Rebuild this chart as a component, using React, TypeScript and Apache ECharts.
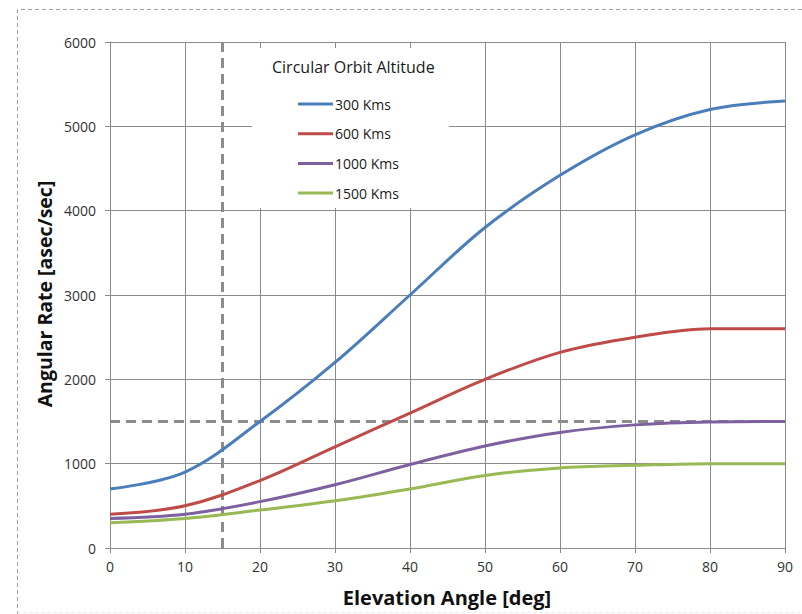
import React, { useEffect, useRef } from "react";
import * as echarts from "echarts";

const elevation = [0, 10, 20, 30, 40, 50, 60, 70, 80, 90];
const seriesNames = ["300 Kms", "600 Kms", "1000 Kms", "1500 Kms"];
const rate300 = [700, 900, 1500, 2200, 3000, 3800, 4420, 4900, 5200, 5300];
const rate600 = [400, 500, 800, 1200, 1600, 2000, 2320, 2500, 2600, 2600];
const rate1000 = [350, 400, 550, 750, 990, 1210, 1370, 1460, 1495, 1500];
const rate1500 = [300, 350, 450, 560, 700, 860, 950, 980, 1000, 1000];
const seriesColors = ["#4A7EBB", "#BE4B48", "#7D60A0", "#98B954"];
const refRate = 1500;
const refElevation = 15;

const FONT = "'Open Sans', sans-serif";

export default function App() {
  const ref = useRef<HTMLDivElement>(null);

  useEffect(() => {
    if (!ref.current) return;
    const chart = echarts.init(ref.current, undefined, { renderer: "svg" });
    const allRates = [rate300, rate600, rate1000, rate1500];
    const dataSeries = allRates.map((vals, i) => ({
      name: seriesNames[i],
      type: "line",
      smooth: 0.35,
      symbol: "none",
      data: elevation.map((x, j) => [x, vals[j]]),
      lineStyle: { color: seriesColors[i], width: 3 },
      itemStyle: { color: seriesColors[i] },
      z: 3,
    }));
    const refStyle = { color: "#8C8C8C", width: 3, type: [10, 6] as any };
    chart.setOption({
      animation: false,
      backgroundColor: "#ffffff",
      grid: { left: 110, right: 17, top: 42, bottom: 66, containLabel: false },
      xAxis: {
        type: "value",
        min: 0,
        max: 90,
        interval: 10,
        axisLine: { show: true, lineStyle: { color: "#8A8A8A", width: 1 } },
        axisTick: { show: true, length: 5, lineStyle: { color: "#8A8A8A" } },
        axisLabel: { color: "#333", fontFamily: FONT, fontSize: 14, margin: 11 },
        splitLine: { show: true, lineStyle: { color: "#8A8A8A", width: 1 } },
      },
      yAxis: {
        type: "value",
        min: 0,
        max: 6000,
        interval: 1000,
        axisLine: { show: true, lineStyle: { color: "#8A8A8A", width: 1 } },
        axisTick: { show: true, length: 5, lineStyle: { color: "#8A8A8A" } },
        axisLabel: {
          color: "#333",
          fontFamily: FONT,
          fontSize: 14,
          margin: 14,
          formatter: (v: number) => String(v),
        },
        splitLine: { show: true, lineStyle: { color: "#8A8A8A", width: 1 } },
      },
      legend: {
        data: seriesNames,
        orient: "vertical",
        left: 298,
        top: 96,
        padding: 0,
        icon: "rect",
        itemWidth: 35,
        itemHeight: 3,
        itemGap: 13.7,
        textStyle: {
          color: "#1a1a1a",
          fontFamily: FONT,
          fontSize: 14,
          lineHeight: 16,
          padding: [0, 0, 0, -3],
        },
        z: 10,
      },
      graphic: [
        {
          type: "rect",
          shape: { x: 252, y: 48, width: 197, height: 160 },
          style: { fill: "#ffffff" },
          z: 5,
        },
        {
          type: "text",
          x: 272,
          y: 67,
          style: {
            text: "Circular Orbit Altitude",
            fill: "#1a1a1a",
            font: `16px ${FONT}`,
            textVerticalAlign: "middle",
          },
          z: 11,
        },
        {
          type: "text",
          x: 447,
          y: 597,
          style: {
            text: "Elevation Angle [deg]",
            fill: "#111",
            font: `bold 20px ${FONT}`,
            textAlign: "center",
            textVerticalAlign: "middle",
          },
          z: 11,
        },
        {
          type: "text",
          x: 44,
          y: 294,
          rotation: Math.PI / 2,
          style: {
            text: "Angular Rate [asec/sec]",
            fill: "#111",
            font: `bold 19.5px ${FONT}`,
            textAlign: "center",
            textVerticalAlign: "middle",
          },
          z: 11,
        },
        {
          type: "polyline",
          shape: { points: [[802, 9.5], [17.5, 9.5], [17.5, 614]] },
          style: { stroke: "#A0A0A0", lineWidth: 1, lineDash: [4, 3], fill: "none" },
          z: 11,
        },
        {
          type: "line",
          shape: { x1: 17.5, y1: 612.5, x2: 802, y2: 612.5 },
          style: { stroke: "#E6E6E6", lineWidth: 1, lineDash: [3, 3] },
          z: 11,
        },
      ],
      series: [
        {
          name: "ref-h",
          type: "line",
          symbol: "none",
          data: [[0, refRate], [90, refRate]],
          lineStyle: refStyle,
          z: 2,
        },
        {
          name: "ref-v",
          type: "line",
          symbol: "none",
          data: [[refElevation, 0], [refElevation, 6000]],
          lineStyle: refStyle,
          z: 2,
        },
        ...dataSeries,
      ],
    });
    return () => chart.dispose();
  }, []);

  return (
    <div
      ref={ref}
      style={{ position: "fixed", left: 0, top: 0, width: 802, height: 614 }}
    />
  );
}
